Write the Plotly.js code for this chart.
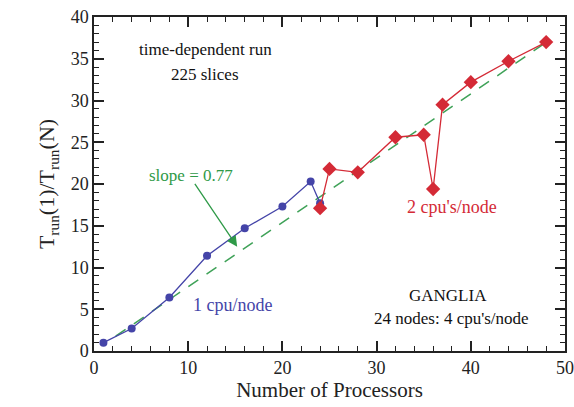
<!DOCTYPE html>
<html><head><meta charset="utf-8">
<script src="https://cdn.plot.ly/plotly-3.0.1.min.js"></script>
<style>body{margin:0;background:#fff}#chart{width:574px;height:407px}</style>
</head><body><div id="chart"></div>
<script>
const procs1 = [1, 4, 8, 12, 16, 20, 23, 24];
const speed1 = [1.0, 2.7, 6.4, 11.4, 14.7, 17.3, 20.3, 17.7];
const procs2 = [24, 25, 28, 32, 35, 36, 37, 40, 44, 48];
const speed2 = [17.1, 21.8, 21.4, 25.6, 25.9, 19.4, 29.5, 32.2, 34.7, 37.0];
const slope = 0.77;
const fitX = [2.3, 48];
const fitY = fitX.map(x => slope * x);

const blue = '#4444a8', red = '#d42a36', green = '#2f9a48';
const fam = 'Liberation Serif';

const traces = [
  {x: fitX, y: fitY, mode: 'lines', line: {color: '#3fa258', width: 1.5, dash: '12px,10px'}, hoverinfo: 'skip'},
  {x: procs1, y: speed1, mode: 'lines+markers', line: {color: blue, width: 1.3},
   marker: {symbol: 'circle', size: 8, color: blue}},
  {x: procs2, y: speed2, mode: 'lines+markers', line: {color: red, width: 1.3},
   marker: {symbol: 'diamond', size: 11, color: red}}
];

const layout = {
  width: 574, height: 407,
  margin: {l: 94, r: 9, t: 17, b: 56},
  paper_bgcolor: '#fff', plot_bgcolor: '#fff',
  showlegend: false,
  font: {family: fam, size: 18, color: '#222'},
  xaxis: {
    range: [0, 50], dtick: 10, tick0: 0,
    showgrid: false, zeroline: false, showline: true, linecolor: '#222', linewidth: 1.5,
    mirror: 'allticks', ticks: 'inside', ticklen: 10, tickwidth: 1.5, tickcolor: '#222',
    minor: {dtick: 2, ticks: 'inside', ticklen: 5, tickwidth: 1.2, tickcolor: '#222'},
    tickfont: {family: fam, size: 18, color: '#222'},
    title: {text: 'Number of Processors', font: {family: fam, size: 21, color: '#222'}, standoff: 4}
  },
  yaxis: {
    range: [0, 40], dtick: 5, tick0: 0,
    showgrid: false, zeroline: false, showline: true, linecolor: '#222', linewidth: 1.5,
    mirror: 'allticks', ticks: 'inside', ticklen: 10, tickwidth: 1.5, tickcolor: '#222',
    minor: {dtick: 1, ticks: 'inside', ticklen: 5, tickwidth: 1.2, tickcolor: '#222'},
    tickfont: {family: fam, size: 18, color: '#222'},
    title: {text: 'T<sub>run</sub>(1)/T<sub>run</sub>(N)', font: {family: fam, size: 22, color: '#222'}, standoff: 10}
  },
  annotations: [
    {x: 11.8, y: 36.1, xref: 'x', yref: 'y', text: 'time-dependent run', showarrow: false,
     font: {family: fam, size: 17, color: '#111'}},
    {x: 11.8, y: 33.1, xref: 'x', yref: 'y', text: '225 slices', showarrow: false,
     font: {family: fam, size: 17, color: '#111'}},
    {x: 15.2, y: 12.5, ax: 10.6, ay: 20.2, xref: 'x', yref: 'y', axref: 'x', ayref: 'y',
     text: '', showarrow: true, arrowhead: 2, arrowsize: 1.6, arrowwidth: 1.3, arrowcolor: green},
    {x: 10.3, y: 21.0, xref: 'x', yref: 'y', text: 'slope = 0.77', showarrow: false,
     font: {family: fam, size: 17, color: green}},
    {x: 14.7, y: 5.5, xref: 'x', yref: 'y', text: '1 cpu/node', showarrow: false,
     font: {family: fam, size: 18, color: blue}},
    {x: 38.0, y: 17.2, xref: 'x', yref: 'y', text: "2 cpu's/node", showarrow: false,
     font: {family: fam, size: 18, color: red}},
    {x: 37.6, y: 6.7, xref: 'x', yref: 'y', text: 'GANGLIA', showarrow: false,
     font: {family: fam, size: 17, color: '#111'}},
    {x: 37.9, y: 3.9, xref: 'x', yref: 'y', text: "24 nodes: 4 cpu's/node", showarrow: false,
     font: {family: fam, size: 17, color: '#111'}}
  ]
};

Plotly.newPlot('chart', traces, layout, {displayModeBar: false});
</script>
</body></html>
